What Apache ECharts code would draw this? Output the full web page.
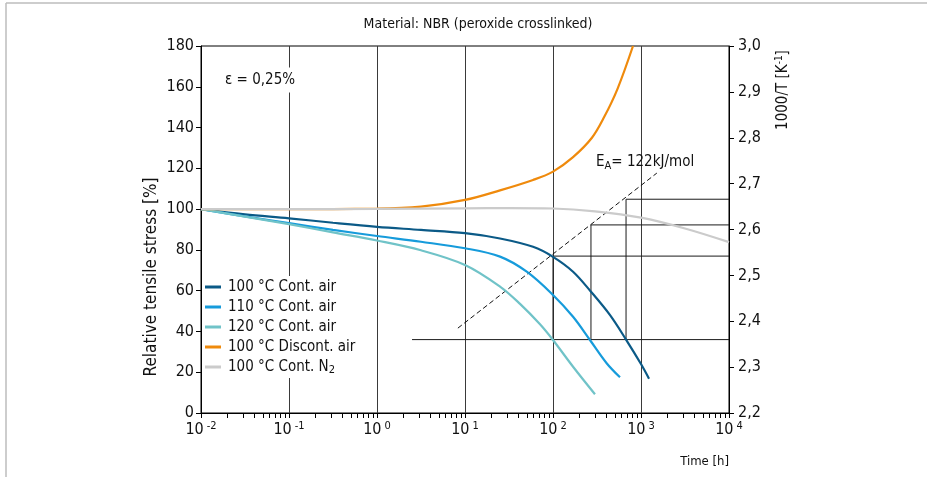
<!DOCTYPE html>
<html>
<head>
<meta charset="utf-8">
<script src="https://cdn.jsdelivr.net/npm/echarts@6/dist/echarts.min.js"></script>
<style>
  html, body { margin: 0; padding: 0; background: #fff; }
  #chart { width: 927px; height: 477px; }
</style>
</head>
<body>
<div id="chart"></div>
<script>
const FONT = "'Liberation Sans Narrow', 'DejaVu Sans Condensed', 'Liberation Sans', sans-serif";

// Ageing curves: time [h] and relative tensile stress [%]
const time100Air = [0.01, 0.0316, 0.1, 0.316, 1, 3.16, 10, 25, 59.3, 100, 169, 270, 445, 676, 1000, 1234];
const stress100Air = [100, 97.4, 95.5, 93.3, 91.3, 89.8, 88.2, 85.6, 81.5, 76.6, 69.3, 59.5, 48, 36, 24, 16.8];

const time110Air = [0.01, 0.0316, 0.1, 0.316, 1, 3.16, 10, 25, 50.3, 100, 169, 263, 407, 577];
const stress110Air = [100, 96.4, 93.1, 89.8, 86.8, 84, 80.8, 76.7, 69.3, 57.9, 47.2, 35.8, 24.4, 17.5];

const time120Air = [0.01, 0.0316, 0.1, 0.316, 1, 3.16, 10, 25, 42.2, 71.2, 100, 169, 300];
const stress120Air = [100, 96.3, 92.6, 88.6, 84.6, 79.8, 72.6, 62, 53.5, 43.5, 35.8, 22.7, 9.2];

const time100Discont = [0.01, 0.1, 1, 3.16, 10, 25, 59.3, 100, 169, 277, 380, 541, 811];
const stress100Discont = [100, 100, 100.2, 101.2, 104.5, 109.2, 114.3, 118.4, 125.5, 135, 145, 159, 180];

const time100N2 = [0.01, 0.1, 1, 10, 31.6, 100, 300, 1000, 3160, 10000];
const stress100N2 = [100, 100, 100.1, 100.4, 100.5, 100.3, 98.9, 95.8, 90.5, 83.8];

// Arrhenius construction (right axis, 1000/T in K^-1)
const failureStress = 36;                 // end-of-life criterion [%]
const failureTimes = [100, 270, 676];     // 120, 110, 100 °C
const inverseTemps = [2.542, 2.61, 2.666];
const criterionStartTime = 2.5;
const arrheniusTimes = [8.3, 1514];
const arrheniusInvT = [2.385, 2.723];

// Axis ranges
const stressMin = 0, stressMax = 180, stressStep = 20;
const invTMin = 2.2, invTMax = 3.0, invTStep = 0.1;
const timeMin = 0.01, timeMax = 10000;

const seriesNames = ['100 °C Cont. air', '110 °C Cont. air', '120 °C Cont. air', '100 °C Discont. air', '100 °C Cont. N2'];
const seriesColors = ['#0b5a87', '#169bdb', '#70c3c8', '#ef8a0c', '#cbcbcb'];
const seriesTimes = [time100Air, time110Air, time120Air, time100Discont, time100N2];
const seriesStress = [stress100Air, stress110Air, stress120Air, stress100Discont, stress100N2];

const zip = (a, b) => a.map((v, i) => [v, b[i]]);

// the failure criterion expressed on the 1000/T axis (both axes share the plot height)
const failureInvT = invTMin + (failureStress - stressMin) / (stressMax - stressMin) * (invTMax - invTMin);

// minor tick positions on the logarithmic time axis
const minorTicks = [];
for (let e = -2; e < 4; e++) {
  for (let k = 2; k <= 9; k++) minorTicks.push([k * Math.pow(10, e), 0]);
}

const curveSeries = seriesNames.map((name, i) => ({
  name,
  type: 'line',
  data: zip(seriesTimes[i], seriesStress[i]),
  showSymbol: false,
  smooth: 0.35,
  clip: true,
  z: 5,
  lineStyle: { color: seriesColors[i], width: 2.2 },
  itemStyle: { color: seriesColors[i] }
}));

const refLine = { color: '#1a1a1a', width: 1 };
const constructionSeries = [];
constructionSeries.push({
  type: 'line', yAxisIndex: 1, silent: true, showSymbol: false, z: 3,
  data: [[criterionStartTime, failureInvT], [timeMax, failureInvT]],
  lineStyle: refLine
});
failureTimes.forEach((t, i) => {
  constructionSeries.push({
    type: 'line', yAxisIndex: 1, silent: true, showSymbol: false, z: 3,
    data: [[t, failureInvT], [t, inverseTemps[i]], [timeMax, inverseTemps[i]]],
    lineStyle: refLine
  });
});
constructionSeries.push({
  type: 'line', yAxisIndex: 1, silent: true, showSymbol: false, z: 3,
  data: zip(arrheniusTimes, arrheniusInvT),
  lineStyle: { color: '#111', width: 1, type: [5, 3] }
});

const minorTickSeries = {
  type: 'custom', silent: true, clip: false, z: 4,
  data: minorTicks,
  renderItem: (params, api) => {
    const p = api.coord([api.value(0), api.value(1)]);
    const x = Math.round(p[0]) + 0.5;
    return {
      type: 'line',
      shape: { x1: x, y1: p[1], x2: x, y2: p[1] + 5 },
      style: { stroke: '#000', lineWidth: 1 }
    };
  }
};

const chart = echarts.init(document.getElementById('chart'), null, { renderer: 'canvas' });

chart.setOption({
  animation: false,
  backgroundColor: '#fff',
  textStyle: { fontFamily: FONT, color: '#111' },
  grid: { left: 201, top: 46, width: 528, height: 367, show: true, borderColor: '#000', borderWidth: 1, backgroundColor: 'transparent' },
  xAxis: {
    type: 'log', logBase: 10, min: timeMin, max: timeMax,
    axisLine: { show: true, lineStyle: { color: '#000', width: 1 } },
    axisTick: { show: true, length: 5, lineStyle: { color: '#000' } },
    splitLine: { show: true, lineStyle: { color: '#3a3a3a', width: 1 } },
    axisLabel: {
      margin: 8, fontFamily: FONT, fontSize: 16, lineHeight: 18, color: '#111',
      formatter: v => '10{sup|' + Math.round(Math.log10(v)) + '}',
      rich: { sup: { fontFamily: FONT, fontSize: 11, lineHeight: 8, verticalAlign: 'top', padding: [0, 0, 0, 3], color: '#111' } }
    }
  },
  yAxis: [{
    type: 'value', min: stressMin, max: stressMax, interval: stressStep,
    axisLine: { show: true, lineStyle: { color: '#000' } },
    axisTick: { show: true, length: 5, lineStyle: { color: '#000' } },
    splitLine: { show: false },
    axisLabel: { margin: 7, fontFamily: FONT, fontSize: 16, color: '#111' }
  }, {
    type: 'value', position: 'right', min: invTMin, max: invTMax, interval: invTStep,
    axisLine: { show: true, lineStyle: { color: '#000' } },
    axisTick: { show: true, length: 5, lineStyle: { color: '#000' } },
    splitLine: { show: false },
    axisLabel: {
      margin: 9, fontFamily: FONT, fontSize: 16, color: '#111',
      formatter: v => v.toFixed(1).replace('.', ',')
    }
  }],
  legend: {
    data: seriesNames,
    orient: 'vertical',
    left: 203, top: 276,
    padding: [2, 6, 2, 2],
    backgroundColor: '#fff',
    icon: 'rect',
    itemWidth: 16, itemHeight: 3,
    itemGap: 2,
    selectedMode: false,
    textStyle: {
      fontFamily: FONT, fontSize: 15, color: '#111', lineHeight: 18, padding: [0, 0, 0, 2],
      rich: { sub: { fontFamily: FONT, fontSize: 11, lineHeight: 10, verticalAlign: 'bottom', color: '#111' } }
    },
    formatter: name => name.replace(/N2$/, 'N{sub|2}')
  },
  graphic: [
    { type: 'line', shape: { x1: 6, y1: 3, x2: 927, y2: 3 }, style: { stroke: '#bdbdbd', lineWidth: 1.5 }, silent: true },
    { type: 'line', shape: { x1: 6, y1: 3, x2: 6, y2: 477 }, style: { stroke: '#bdbdbd', lineWidth: 1.5 }, silent: true },
    {
      type: 'text', x: 478, y: 24, silent: true,
      style: { text: 'Material: NBR (peroxide crosslinked)', fontFamily: FONT, fontSize: 14, fill: '#111', align: 'center', verticalAlign: 'middle' }
    },
    {
      type: 'text', x: 222, y: 80, z: 10, silent: true,
      style: { text: 'ε = 0,25%', fontFamily: FONT, fontSize: 15, fill: '#111', align: 'left', verticalAlign: 'middle', backgroundColor: '#fff', padding: [5, 3, 5, 3] }
    },
    {
      type: 'text', x: 596, y: 162, z: 10, silent: true,
      style: {
        text: 'E{sub|A}= 122kJ/mol', fontFamily: FONT, fontSize: 15, lineHeight: 20, fill: '#111', align: 'left', verticalAlign: 'middle',
        rich: { sub: { fontFamily: FONT, fontSize: 11, lineHeight: 8, verticalAlign: 'bottom', fill: '#111' } }
      }
    },
    {
      type: 'text', x: 729, y: 462, silent: true,
      style: { text: 'Time [h]', fontFamily: FONT, fontSize: 13, fill: '#111', align: 'right', verticalAlign: 'middle' }
    },
    {
      type: 'text', x: 152, y: 277, rotation: Math.PI / 2, silent: true,
      style: { text: 'Relative tensile stress [%]', fontFamily: FONT, fontSize: 17, fill: '#111', align: 'center', verticalAlign: 'middle' }
    },
    {
      type: 'text', x: 783, y: 90, rotation: Math.PI / 2, silent: true,
      style: {
        text: '1000/T [K{sup|-1}]', fontFamily: FONT, fontSize: 15, lineHeight: 18, fill: '#111', align: 'center', verticalAlign: 'middle',
        rich: { sup: { fontFamily: FONT, fontSize: 10, lineHeight: 8, verticalAlign: 'top', fill: '#111' } }
      }
    }
  ],
  series: [...constructionSeries, minorTickSeries, ...curveSeries]
});
</script>
</body>
</html>
